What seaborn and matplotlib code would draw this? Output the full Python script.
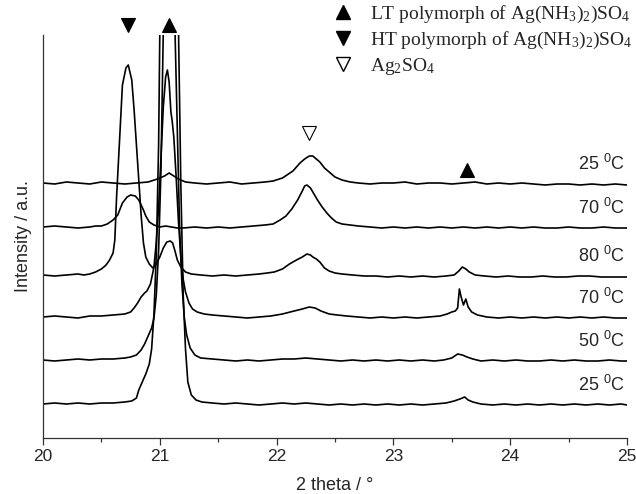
import numpy as np
import pandas as pd
import matplotlib
matplotlib.use("Agg")
import matplotlib.pyplot as plt
import seaborn as sns
from matplotlib.lines import Line2D

# ---------------- data (2 theta, intensity above own baseline) ----------------
temps = ["25", "50", "70", "80", "70", "25"]          # bottom -> top
offsets = [34, 78, 121, 163, 211, 255]

c25_bottom = [(20.0,0),(20.1,1),(20.2,0),(20.3,1),(20.4,0),(20.5,1),(20.6,1),(20.7,2),(20.76,3),(20.8,6),
    (20.82,14),(20.85,22),(20.88,30),(20.91,40),(20.93,55),(20.95,90),(20.97,150),(20.99,260),(21.0,370),
    (21.04,450),(21.09,470),(21.13,440),(21.16,375),(21.18,220),(21.2,110),(21.22,55),(21.24,22),(21.27,9),
    (21.31,4),(21.36,2),(21.45,1),(21.55,0),(21.65,1),(21.75,0),(21.85,-1),(21.95,0),(22.05,1),(22.15,0),
    (22.25,1),(22.35,0),(22.45,-1),(22.55,0),(22.65,-1),(22.75,0),(22.85,-1),(22.95,0),(23.05,-1),(23.15,0),
    (23.25,-1),(23.35,0),(23.45,1),(23.52,3),(23.57,5),(23.61,7),(23.64,4),(23.68,2),(23.75,0),(23.85,-1),
    (23.95,0),(24.05,-1),(24.15,0),(24.25,-1),(24.35,0),(24.45,-1),(24.55,0),(24.65,-1),(24.75,0),(24.85,-1),
    (24.95,0),(25.0,-1)]

c50 = [(20.0,0),(20.1,-1),(20.2,0),(20.3,1),(20.4,0),(20.5,1),(20.6,1),(20.7,2),(20.75,3),(20.8,5),(20.84,10),
    (20.87,16),(20.9,24),(20.93,32),(20.95,42),(20.97,65),(20.99,110),(21.01,190),(21.03,330),(21.06,420),
    (21.1,420),(21.13,330),(21.15,230),(21.17,130),(21.19,75),(21.21,42),(21.23,25),(21.26,12),(21.3,5),
    (21.35,2),(21.45,1),(21.55,0),(21.65,-1),(21.75,0),(21.85,-1),(21.95,0),(22.05,1),(22.15,1),(22.25,2),
    (22.35,1),(22.45,0),(22.55,-1),(22.65,0),(22.75,-1),(22.85,0),(22.95,-1),(23.05,0),(23.15,-1),(23.25,0),
    (23.35,-1),(23.43,0),(23.5,2),(23.55,6),(23.59,5),(23.63,3),(23.68,1),(23.75,-1),(23.85,0),(23.95,-1),
    (24.05,0),(24.15,-1),(24.25,-1),(24.35,0),(24.45,-1),(24.55,0),(24.65,-1),(24.75,-1),(24.85,0),(24.95,-1),
    (25.0,-1)]

c70_heat = [(20.0,0),(20.1,1),(20.2,0),(20.3,-1),(20.4,1),(20.5,1),(20.6,2),(20.7,3),(20.75,5),(20.78,9),
    (20.81,14),(20.84,20),(20.87,24),(20.89,26),(20.92,33),(20.95,50),(20.97,75),(20.99,110),(21.01,160),
    (21.03,210),(21.05,240),(21.065,247),(21.08,235),(21.095,205),(21.105,197),(21.12,180),(21.14,140),
    (21.16,95),(21.18,60),(21.2,38),(21.22,25),(21.25,14),(21.28,8),(21.32,5),(21.38,3),(21.45,2),(21.55,1),
    (21.65,0),(21.75,-1),(21.85,0),(21.95,1),(22.05,3),(22.15,6),(22.22,8),(22.28,10),(22.33,9),(22.38,6),
    (22.45,3),(22.52,2),(22.6,1),(22.7,0),(22.8,-1),(22.9,0),(23.0,-1),(23.1,0),(23.2,-1),(23.3,0),(23.4,1),
    (23.46,3),(23.5,5),(23.53,6),(23.55,9),(23.565,28),(23.58,20),(23.6,12),(23.62,18),(23.64,10),(23.67,5),
    (23.72,2),(23.8,0),(23.9,-1),(24.0,0),(24.1,-1),(24.2,0),(24.3,-1),(24.4,0),(24.5,-1),(24.6,0),(24.7,-1),
    (24.8,0),(24.9,-1),(25.0,-1)]

c80 = [(20.0,0),(20.1,-1),(20.2,0),(20.3,1),(20.35,0),(20.4,1),(20.45,3),(20.5,6),(20.54,10),(20.57,15),
    (20.6,22),(20.615,35),(20.63,78),(20.66,145),(20.68,190),(20.71,207),(20.73,210),(20.76,195),(20.78,165),
    (20.8,130),(20.82,95),(20.84,60),(20.86,32),(20.88,18),(20.91,11),(20.94,7),(20.97,11),(21.0,18),
    (21.03,27),(21.06,33),(21.09,34),(21.11,32),(21.13,24),(21.15,15),(21.18,8),(21.22,3),(21.27,1),
    (21.35,0),(21.45,-1),(21.55,0),(21.65,-1),(21.75,0),(21.85,1),(21.92,2),(21.98,3),(22.05,6),(22.11,11),
    (22.17,15),(22.22,18),(22.26,21),(22.29,20),(22.31,18),(22.34,16),(22.37,13),(22.41,7),(22.45,4),
    (22.5,2),(22.56,1),(22.65,0),(22.75,-1),(22.85,-1),(22.95,-2),(23.05,-1),(23.15,-2),(23.25,-1),
    (23.35,-2),(23.45,-1),(23.52,0),(23.56,4),(23.59,8),(23.62,6),(23.65,3),(23.7,0),(23.78,-1),(23.88,-2),
    (23.98,-1),(24.08,-2),(24.18,-2),(24.28,-1),(24.38,-2),(24.48,-2),(24.58,-1),(24.68,-1),(24.78,-2),
    (24.88,-2),(25.0,-2)]

c70_cool = [(20.0,0),(20.1,1),(20.2,0),(20.3,-1),(20.4,0),(20.45,1),(20.5,1),(20.55,3),(20.6,7),(20.64,12),
    (20.68,24),(20.72,30),(20.75,32),(20.79,31),(20.82,27),(20.86,17),(20.88,11),(20.91,5),(20.95,2),
    (21.0,0),(21.05,1),(21.1,0),(21.15,-1),(21.2,-1),(21.3,0),(21.4,-1),(21.5,0),(21.6,-1),(21.7,0),
    (21.8,1),(21.9,2),(21.97,3),(22.03,7),(22.08,11),(22.13,18),(22.18,27),(22.22,36),(22.24,41),(22.26,42),
    (22.29,39),(22.32,33),(22.35,27),(22.39,20),(22.43,14),(22.47,9),(22.51,5),(22.56,3),(22.63,2),(22.7,1),
    (22.8,0),(22.9,-1),(23.0,0),(23.1,-1),(23.2,0),(23.3,-1),(23.4,0),(23.5,-1),(23.6,0),(23.7,-1),(23.8,0),
    (23.9,-1),(24.0,0),(24.1,-1),(24.2,0),(24.3,-1),(24.4,-1),(24.5,0),(24.6,-1),(24.7,-1),(24.8,0),
    (24.9,-1),(25.0,-1)]

c25_top = [(20.0,0),(20.1,-1),(20.2,1),(20.3,0),(20.4,-1),(20.5,1),(20.6,0),(20.7,-1),(20.8,0),(20.9,1),
    (20.98,4),(21.04,7),(21.08,10),(21.12,7),(21.16,4),(21.22,1),(21.3,0),(21.4,-1),(21.5,0),(21.6,1),
    (21.7,-1),(21.8,0),(21.9,1),(21.97,2),(22.05,5),(22.14,12),(22.2,20),(22.24,24),(22.28,27),(22.31,27),
    (22.34,24),(22.37,21),(22.41,15),(22.45,11),(22.5,6),(22.56,3),(22.63,1),(22.7,0),(22.8,-1),(22.9,0),
    (23.0,0),(23.1,1),(23.2,-1),(23.3,0),(23.4,0),(23.5,-1),(23.6,0),(23.7,1),(23.8,-1),(23.9,0),(24.0,-1),
    (24.1,0),(24.2,-1),(24.3,-2),(24.4,-1),(24.5,-1),(24.6,-2),(24.7,-1),(24.8,-2),(24.9,-1),(25.0,-2)]

curves = [c25_bottom, c50, c70_heat, c80, c70_cool, c25_top]

# peak markers (2 theta, height, kind)
mark_x = [20.73, 21.08, 22.28, 23.63]
mark_y = [413, 413, 305, 268]
mark_kind = ["HT", "LT", "Ag", "LT"]

legend_labels = [r"LT polymorph of Ag(NH$_3$)$_2$)SO$_4$",
                 r"HT polymorph of Ag(NH$_3$)$_2$)SO$_4$",
                 r"Ag$_2$SO$_4$"]

# ---------------- plotting ----------------
sns.set_theme(style="ticks")
plt.rcParams["font.family"] = ["Liberation Sans", "DejaVu Sans"]
plt.rcParams["mathtext.default"] = "regular"

fig = plt.figure(figsize=(6.36, 4.94), dpi=100)
ax = fig.add_axes([43/636, 1-438/494, (627-43)/636, (438-35)/494])

for pts, off in zip(curves, offsets):
    df = pd.DataFrame(pts, columns=["theta", "I"])
    df["I"] = df["I"] + off
    sns.lineplot(data=df, x="theta", y="I", color="black", lw=1.2,
                 estimator=None, sort=False, ax=ax)

for t, off in zip(temps, offsets):
    ax.text(24.98, off + 19, t + r" $^0$C", ha="right", va="center", fontsize=13)

styles = {"LT": dict(marker="^", mfc="black", mec="black"),
          "HT": dict(marker="v", mfc="black", mec="black"),
          "Ag": dict(marker="v", mfc="white", mec="black")}
for x, y, k in zip(mark_x, mark_y, mark_kind):
    ax.plot([x], [y], ls="none", ms=10, mew=0.8, clip_on=False, zorder=5, **styles[k])

ax.set_xlim(20, 25)
ax.set_ylim(0, 403)
ax.set_xticks([20, 21, 22, 23, 24, 25])
ax.set_xticks([20.5, 21.5, 22.5, 23.5, 24.5], minor=True)
ax.set_yticks([])
ax.tick_params(axis="x", which="major", length=5, width=0.9, labelsize=12.5, pad=3, color="#333333")
ax.tick_params(axis="x", which="minor", length=3, width=0.9, color="#333333")
for s in ["top", "right"]:
    ax.spines[s].set_visible(False)
for s in ["left", "bottom"]:
    ax.spines[s].set_color("#333333")
    ax.spines[s].set_linewidth(0.9)
ax.set_xlabel("2 theta / °", fontsize=13, labelpad=9)
ax.set_ylabel("Intensity / a.u.", fontsize=13, labelpad=8)

handles = [Line2D([], [], ls="none", ms=10, **styles["LT"]),
           Line2D([], [], ls="none", ms=10, **styles["HT"]),
           Line2D([], [], ls="none", ms=10, **styles["Ag"])]
fig.legend(handles, legend_labels, loc="upper left", bbox_to_anchor=(333/636, 1-4/494),
           frameon=False, prop={"family": "Liberation Serif", "size": 14},
           handlelength=1.0, handletextpad=0.9, labelspacing=0.25,
           borderaxespad=0, borderpad=0)

fig.savefig("out.png", dpi=100)
